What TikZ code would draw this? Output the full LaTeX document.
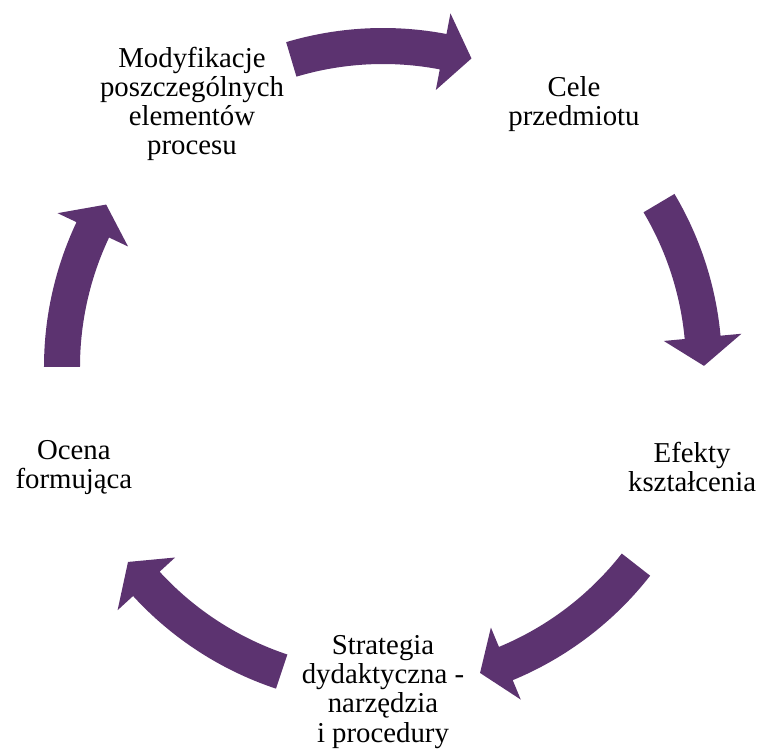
\documentclass[tikz,border=0pt]{standalone}
\usepackage{fontspec}
\setmainfont{Liberation Serif}
\definecolor{arrowpurple}{RGB}{92,51,112}
\tikzset{
  lbl/.style={align=center, inner sep=0pt, text=black,
    font=\fontsize{21.6}{21.8}\selectfont},
  cyclearrowfill/.style={fill=arrowpurple, draw=none}
}
\def\Ro{339}
\def\Ri{303}
\def\Rm{321}
\def\Rh{360}
\def\Rl{282}
% #1 tail angle, #2 neck (barb) angle, #3 tip angle
\newcommand{\cyclearrow}[3]{%
  \fill[cyclearrowfill] (#1:\Ro) arc[start angle=#1, end angle=#2, radius=\Ro]
    -- (#2:\Rh) -- (#3:\Rm) -- (#2:\Rl) -- (#2:\Ri)
    arc[start angle=#2, end angle=#1, radius=\Ri] -- cycle;}
\begin{document}
\begin{tikzpicture}[x=0.75pt,y=0.75pt]
\useasboundingbox (-383,-382) rectangle (375,367);
% arrows
\cyclearrow{106.6}{79.2}{74}
\cyclearrow{30.7}{5.3}{0.2}
\cyclearrow{-38}{-67.5}{-72.4}
\cyclearrow{-108.4}{-137.5}{-142.6}
\cyclearrow{180}{154.7}{149.6}
% labels
\node[lbl] (cele) at (54:325) {Cele\\przedmiotu};
\node[lbl] (efekty) at (-18:325) {Efekty\\kształcenia};
\node[lbl] (strategia) at (-90:325) {Strategia\\dydaktyczna -\\narzędzia\\i procedury};
\node[lbl] (ocena) at (198:325) {Ocena\\formująca};
\node[lbl] (modyf) at (126:325) {Modyfikacje\\poszczególnych\\elementów\\procesu};
\end{tikzpicture}
\end{document}
